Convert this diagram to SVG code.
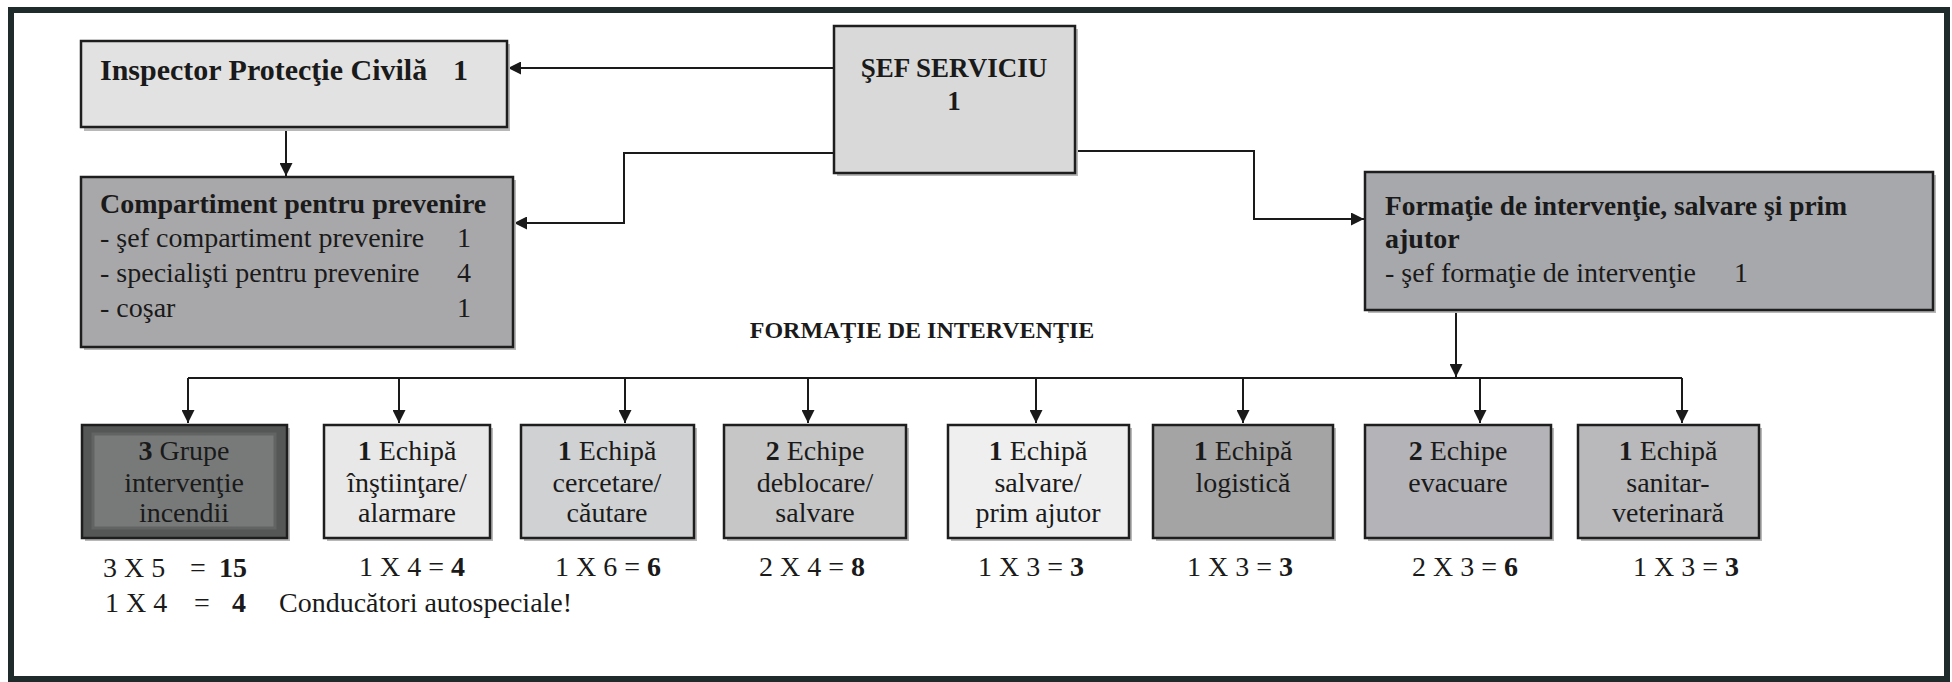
<svg xmlns="http://www.w3.org/2000/svg" width="1952" height="682" viewBox="0 0 1952 682">
<defs>
<marker id="arr" viewBox="0 0 10 10" refX="10" refY="5" markerWidth="13" markerHeight="13" markerUnits="userSpaceOnUse" orient="auto">
<path d="M0,0 L10,5 L0,10 z" fill="#1a1a1a"/>
</marker>
</defs>
<style>
text{font-family:"Liberation Serif","Times New Roman",serif;fill:#1a1a1a;font-size:28px}
.b{font-weight:bold}
.c{text-anchor:middle}
.s30{font-size:30px}
.s27{font-size:27px}
.s24{font-size:24px}
.box{stroke:#1e1e1e;stroke-width:2.5}
.sh{fill:#b8b8b8}
.ln{fill:none;stroke:#1a1a1a;stroke-width:2}
</style>
<rect x="0" y="0" width="1952" height="682" fill="#ffffff"/>
<rect x="11" y="10" width="1936" height="669" fill="none" stroke="#1f2a2a" stroke-width="6"/>

<g id="connectors">
<path class="ln" d="M834,68 H508" marker-end="url(#arr)"/>
<path class="ln" d="M834,153 H624 V223 H514" marker-end="url(#arr)"/>
<path class="ln" d="M1075,151 H1254 V219 H1364" marker-end="url(#arr)"/>
<path class="ln" d="M286,128 V176" marker-end="url(#arr)"/>
<path class="ln" d="M1456,311 V377" marker-end="url(#arr)"/>
<path class="ln" d="M188,378 H1682"/>
<path class="ln" d="M188,378 V423" marker-end="url(#arr)"/>
<path class="ln" d="M399,378 V423" marker-end="url(#arr)"/>
<path class="ln" d="M625,378 V423" marker-end="url(#arr)"/>
<path class="ln" d="M808,378 V423" marker-end="url(#arr)"/>
<path class="ln" d="M1036,378 V423" marker-end="url(#arr)"/>
<path class="ln" d="M1243,378 V423" marker-end="url(#arr)"/>
<path class="ln" d="M1480,378 V423" marker-end="url(#arr)"/>
<path class="ln" d="M1682,378 V423" marker-end="url(#arr)"/>
</g>

<g id="inspector">
<rect class="sh" x="84" y="44" width="426" height="87"/>
<rect class="box" x="81" y="41" width="426" height="86" fill="#e2e2e2"/>
<text class="b s30" x="100" y="80">Inspector Protecţie Civilă</text>
<text class="b s30" x="453" y="80">1</text>
</g>

<g id="sef">
<rect class="sh" x="837" y="29" width="241" height="147"/>
<rect class="box" x="834" y="26" width="241" height="147" fill="#d9d9d9"/>
<text class="b c s27" x="954" y="77">ŞEF SERVICIU</text>
<text class="b c s27" x="954" y="110">1</text>
</g>

<g id="compartiment">
<rect class="sh" x="84" y="180" width="432" height="170"/>
<rect class="box" x="81" y="177" width="432" height="170" fill="#a8a8aa"/>
<text class="b" x="100" y="213">Compartiment  pentru prevenire</text>
<text x="100" y="247">- şef compartiment prevenire</text>
<text class="c" x="464" y="247">1</text>
<text x="100" y="282">- specialişti pentru prevenire</text>
<text class="c" x="464" y="282">4</text>
<text x="100" y="317">- coşar</text>
<text class="c" x="464" y="317">1</text>
</g>

<g id="formatie">
<rect class="sh" x="1368" y="175" width="568" height="138"/>
<rect class="box" x="1365" y="172" width="568" height="138" fill="#a7a8ac"/>
<text class="b" x="1385" y="215" textLength="462" lengthAdjust="spacingAndGlyphs">Formaţie de intervenţie, salvare şi prim</text>
<text class="b" x="1385" y="248">ajutor</text>
<text x="1385" y="282">- şef formaţie de intervenţie</text>
<text class="c" x="1741" y="282">1</text>
</g>

<g id="titlu">
<text class="b c s24" x="922" y="338">FORMAŢIE DE INTERVENŢIE</text>
</g>

<g id="grupe-incendii">
<rect class="sh" x="85" y="428" width="205" height="113"/>
<rect class="box" x="82" y="425" width="205" height="113" fill="#555757"/>
<rect x="93" y="434" width="182" height="94" fill="#787a7a" stroke="#626464" stroke-width="3"/>
<text class="c" x="184" y="460"><tspan class="b">3</tspan> Grupe</text>
<text class="c" x="184" y="492">intervenţie</text>
<text class="c" x="184" y="522">incendii</text>
<text x="103" y="577">3 X 5</text>
<text x="190" y="577">=</text>
<text class="b" x="219" y="577">15</text>
<text x="105" y="612">1 X 4</text>
<text x="194" y="612">=</text>
<text class="b" x="232" y="612">4</text>
<text x="279" y="612">Conducători autospeciale!</text>
</g>

<g id="instiintare">
<rect class="sh" x="327" y="428" width="166" height="113"/>
<rect class="box" x="324" y="425" width="166" height="113" fill="#e8e8e8"/>
<text class="c" x="407" y="460"><tspan class="b">1</tspan> Echipă</text>
<text class="c" x="407" y="492">înştiinţare/</text>
<text class="c" x="407" y="522">alarmare</text>
<text class="c" x="412" y="576">1 X 4 = <tspan class="b">4</tspan></text>
</g>

<g id="cercetare">
<rect class="sh" x="524" y="428" width="173" height="113"/>
<rect class="box" x="521" y="425" width="173" height="113" fill="#d0d1d3"/>
<text class="c" x="607" y="460"><tspan class="b">1</tspan> Echipă</text>
<text class="c" x="607" y="492">cercetare/</text>
<text class="c" x="607" y="522">căutare</text>
<text class="c" x="608" y="576">1 X 6 = <tspan class="b">6</tspan></text>
</g>

<g id="deblocare">
<rect class="sh" x="727" y="428" width="182" height="113"/>
<rect class="box" x="724" y="425" width="182" height="113" fill="#c6c6c6"/>
<text class="c" x="815" y="460"><tspan class="b">2</tspan> Echipe</text>
<text class="c" x="815" y="492">deblocare/</text>
<text class="c" x="815" y="522">salvare</text>
<text class="c" x="812" y="576">2 X 4 = <tspan class="b">8</tspan></text>
</g>

<g id="prim-ajutor">
<rect class="sh" x="951" y="428" width="181" height="113"/>
<rect class="box" x="948" y="425" width="181" height="113" fill="#efefef"/>
<text class="c" x="1038" y="460"><tspan class="b">1</tspan> Echipă</text>
<text class="c" x="1038" y="492">salvare/</text>
<text class="c" x="1038" y="522">prim ajutor</text>
<text class="c" x="1031" y="576">1 X 3 = <tspan class="b">3</tspan></text>
</g>

<g id="logistica">
<rect class="sh" x="1156" y="428" width="180" height="113"/>
<rect class="box" x="1153" y="425" width="180" height="113" fill="#a4a4a4"/>
<text class="c" x="1243" y="460"><tspan class="b">1</tspan> Echipă</text>
<text class="c" x="1243" y="492">logistică</text>
<text class="c" x="1240" y="576">1 X 3 = <tspan class="b">3</tspan></text>
</g>

<g id="evacuare">
<rect class="sh" x="1368" y="428" width="186" height="113"/>
<rect class="box" x="1365" y="425" width="186" height="113" fill="#b4b4b8"/>
<text class="c" x="1458" y="460"><tspan class="b">2</tspan> Echipe</text>
<text class="c" x="1458" y="492">evacuare</text>
<text class="c" x="1465" y="576">2 X 3 = <tspan class="b">6</tspan></text>
</g>

<g id="sanitar">
<rect class="sh" x="1581" y="428" width="181" height="113"/>
<rect class="box" x="1578" y="425" width="181" height="113" fill="#b9b9bb"/>
<text class="c" x="1668" y="460"><tspan class="b">1</tspan> Echipă</text>
<text class="c" x="1668" y="492">sanitar-</text>
<text class="c" x="1668" y="522">veterinară</text>
<text class="c" x="1686" y="576">1 X 3 = <tspan class="b">3</tspan></text>
</g>
</svg>
